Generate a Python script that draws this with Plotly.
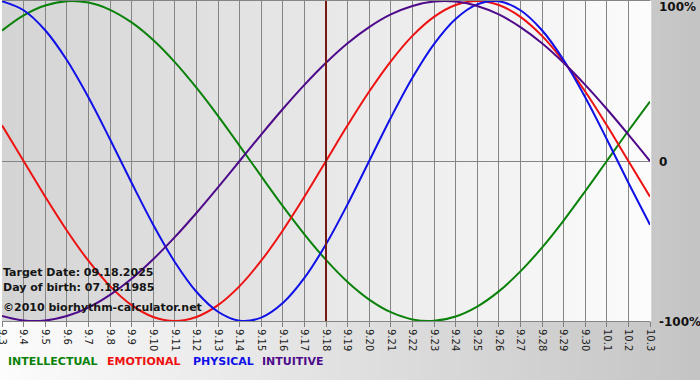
import plotly.graph_objects as go

# ---- data ----
dates = ["9.3", "9.4", "9.5", "9.6", "9.7", "9.8", "9.9", "9.10", "9.11", "9.12",
         "9.13", "9.14", "9.15", "9.16", "9.17", "9.18", "9.19", "9.20", "9.21", "9.22",
         "9.23", "9.24", "9.25", "9.26", "9.27", "9.28", "9.29", "9.30", "10.1", "10.2", "10.3"]

physical = [0.998, 0.942, 0.817, 0.631, 0.398, 0.136, -0.136, -0.398, -0.631, -0.817,
            -0.942, -0.998, -0.979, -0.888, -0.731, -0.520, -0.270, 0.0, 0.270, 0.520,
            0.731, 0.888, 0.979, 0.998, 0.942, 0.817, 0.631, 0.398, 0.136, -0.136, -0.398]

emotional = [0.223, 0.0, -0.223, -0.434, -0.623, -0.782, -0.901, -0.975, -1.0, -0.975,
             -0.901, -0.782, -0.623, -0.434, -0.223, 0.0, 0.223, 0.434, 0.623, 0.782,
             0.901, 0.975, 1.0, 0.975, 0.901, 0.782, 0.623, 0.434, 0.223, 0.0, -0.223]

intellectual = [0.815, 0.910, 0.972, 0.999, 0.990, 0.945, 0.866, 0.756, 0.618, 0.458,
                0.282, 0.095, -0.095, -0.282, -0.458, -0.618, -0.756, -0.866, -0.945, -0.990,
                -0.999, -0.972, -0.910, -0.815, -0.690, -0.541, -0.372, -0.189, 0.0, 0.189, 0.372]

intuitive = [-0.969, -0.997, -0.997, -0.969, -0.916, -0.837, -0.736, -0.614, -0.476, -0.325,
             -0.165, 0.0, 0.165, 0.325, 0.476, 0.614, 0.736, 0.837, 0.916, 0.969,
             0.997, 0.997, 0.969, 0.916, 0.837, 0.736, 0.614, 0.476, 0.325, 0.165, 0.0]

target_label = "9.18"
y_labels = ["100%", "0", "-100%"]
y_values = [1, 0, -1]
legend_names = ["INTELLECTUAL", "EMOTIONAL", "PHYSICAL", "INTUITIVE"]
info_lines = ["Target Date: 09.18.2025", "Day of birth: 07.18.1985", "\u00a92010 biorhythm-calculator.net"]

# ---- layout geometry ----
W, H = 700, 380
ML, MR, MT, MB = 2, 50, 1, 59
PW, PH = W - ML - MR, H - MT - MB


def px_x(px):
    return (px - ML) / PW


def px_y(py):
    return (H - MB - py) / PH


def grey(v):
    v = int(round(v))
    return f"rgb({v},{v},{v})"


x = list(range(len(dates)))
series = [
    ("INTELLECTUAL", intellectual, "#0a820a"),
    ("EMOTIONAL", emotional, "#ee1111"),
    ("PHYSICAL", physical, "#1010e8"),
    ("INTUITIVE", intuitive, "#4e0a8a"),
]

fig = go.Figure()
for name, vals, col in series:
    fig.add_trace(go.Scatter(x=x, y=vals, mode="lines", name=name,
                             line=dict(color=col, width=2, shape="spline", smoothing=1.0),
                             hoverinfo="skip"))

shapes = []
# page background gradient (white -> grey, left to right)
N1 = 70
for i in range(N1):
    f = (i + 0.5) / N1
    shapes.append(dict(type="rect", xref="paper", yref="paper", layer="below",
                       x0=px_x(i * W / N1), x1=px_x((i + 1) * W / N1 + 0.5),
                       y0=px_y(H), y1=px_y(0),
                       fillcolor=grey(252 - f * (252 - 196)), line=dict(width=0)))
# plot area gradient (grey -> white)
N2 = 54
for i in range(N2):
    f = (i + 0.5) / N2
    shapes.append(dict(type="rect", xref="paper", yref="paper", layer="below",
                       x0=i / N2, x1=(i + 1) / N2 + 0.002,
                       y0=0, y1=1,
                       fillcolor=grey(212 + f * (252 - 212)), line=dict(width=0)))
# target date line
ti = dates.index(target_label)
shapes.append(dict(type="line", xref="x", yref="paper", x0=ti, x1=ti, y0=0, y1=1,
                   line=dict(color="#761a14", width=2), layer="above"))

annotations = []
for lab, val in zip(y_labels, y_values):
    yy = {1: px_y(7), 0: px_y(162), -1: px_y(322)}[val]
    annotations.append(dict(text=f"<b>{lab}</b>", xref="paper", yref="paper",
                            x=px_x(657), y=yy, xanchor="left", yanchor="middle",
                            showarrow=False, font=dict(family="DejaVu Sans", size=12, color="#111111")))

for txt, py in zip(info_lines, [272, 287, 307]):
    annotations.append(dict(text=f"<b>{txt}</b>", xref="paper", yref="paper",
                            x=px_x(1), y=px_y(py), xanchor="left", yanchor="middle",
                            showarrow=False, font=dict(family="DejaVu Sans", size=11, color="#151515")))

leg_x = [6, 105, 191, 260]
for (name, vals, col), lx in zip(series, leg_x):
    annotations.append(dict(text=f"<b>{name}</b>", xref="paper", yref="paper",
                            x=px_x(lx), y=px_y(361), xanchor="left", yanchor="middle",
                            showarrow=False, font=dict(family="DejaVu Sans", size=11, color=col)))

fig.update_layout(
    width=W, height=H,
    margin=dict(l=ML, r=MR, t=MT, b=MB, pad=0, autoexpand=False),
    paper_bgcolor="#e0e0e0",
    plot_bgcolor="rgba(0,0,0,0)",
    showlegend=False,
    shapes=shapes,
    annotations=annotations,
    xaxis=dict(range=[0, len(dates) - 1], tickmode="array", tickvals=x, ticktext=dates,
               tickangle=90, ticks="outside", ticklen=5, tickcolor="#808080",
               tickfont=dict(family="DejaVu Sans", size=10, color="#222222"),
               ticklabeloverflow="allow", automargin=False,
               showgrid=True, gridcolor="#858585", gridwidth=1,
               showline=True, linecolor="#858585", linewidth=1, mirror=True,
               zeroline=False, fixedrange=True),
    yaxis=dict(range=[-1, 1], tickmode="array", tickvals=[-1, 0, 1], showticklabels=False,
               automargin=False,
               showgrid=True, gridcolor="#858585", gridwidth=1, zeroline=False,
               showline=False, fixedrange=True),
)

fig.write_html("out.html", config={"displayModeBar": False},
               post_script="document.body.style.margin='0';document.body.style.padding='0';")
